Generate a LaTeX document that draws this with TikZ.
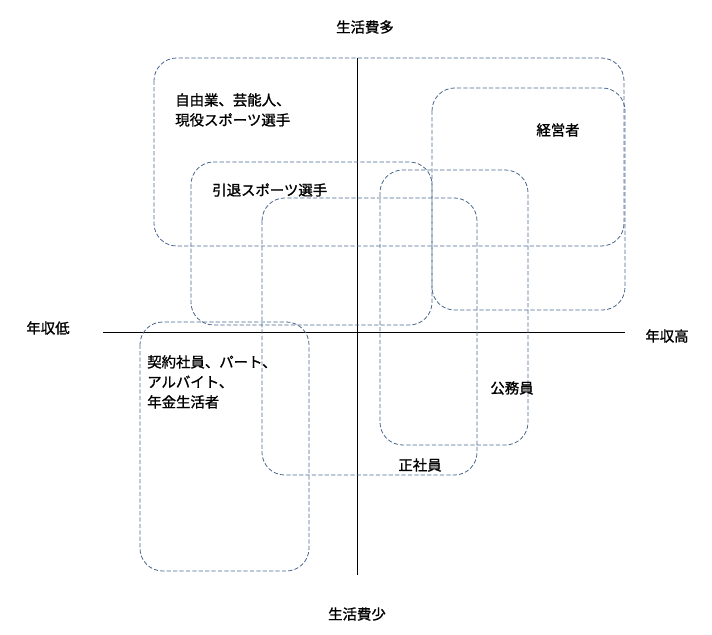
\documentclass[tikz,border=0pt]{standalone}
\usepackage{fontspec}
\newfontfamily\jpfont[FakeBold=1.2]{Noto Sans CJK JP}
\usepackage{tikz}
\usetikzlibrary{positioning,calc}
\definecolor{boxblue}{HTML}{4A6890}

\begin{document}
\begin{tikzpicture}[
        x=0.75pt, y=-0.75pt,
        area/.style={draw=boxblue, dashed, dash pattern=on 3.2pt off 1.6pt, line width=0.6pt, rounded corners=17pt},
        axis/.style={draw=black, line width=0.7pt},
        label/.style={font=\jpfont\fontsize{10.8}{15}\selectfont, align=left, inner sep=0pt},
        group/.style={label, anchor=north west}
    ]
        \useasboundingbox (0,0) rectangle (712,634);

        % Achsen
        \coordinate (top) at (357,58);
        \coordinate (bottom) at (357,575);
        \coordinate (left) at (103,332);
        \coordinate (right) at (625,332);
        \draw[axis] (top) -- (bottom);
        \draw[axis] (left) -- (right);

        \node[label] (more) at (365,27) {生活費多};
        \node[label] (less) at (357,614) {生活費少};
        \node[label] (low) at (48,328) {年収低};
        \node[label] (high) at (667,336) {年収高};

        % Gruppen
        \draw[area] (154,58) rectangle (624,246);
        \draw[area] (432,88) rectangle (625,310);
        \draw[area] (191,162) rectangle (432,325);
        \draw[area] (262,198) rectangle (477,475);
        \draw[area] (380,170) rectangle (528,445);
        \draw[area] (140,322) rectangle (309,571);

        \node[group] (free) at (175,93) {自由業、芸能人、\\現役スポーツ選手};
        \node[label] (boss) at (558,130) {経営者};
        \node[group] (retired) at (212,183) {引退スポーツ選手};
        \node[group] (parttime) at (147,355) {契約社員、パート、\\アルバイト、\\年金生活者};
        \node[label] (civil) at (512,388) {公務員};
        \node[label] (regular) at (420,465) {正社員};

    \end{tikzpicture}
\end{document}
